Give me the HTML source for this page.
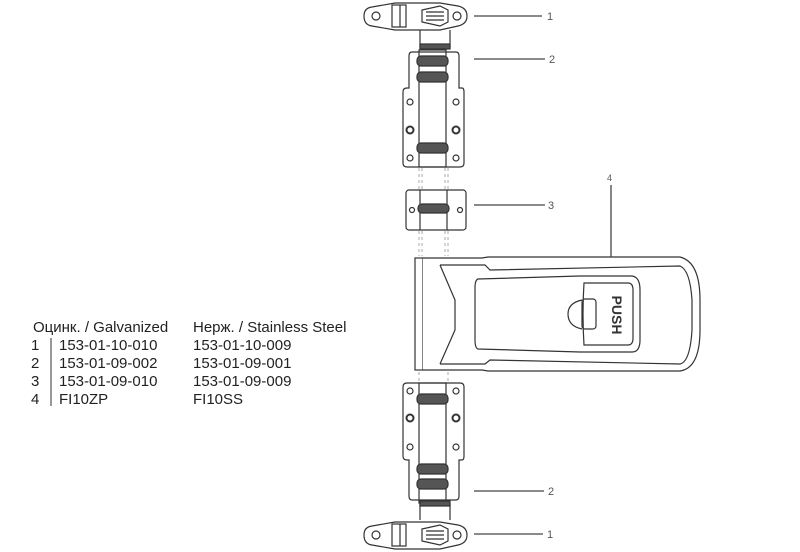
<!DOCTYPE html>
<html><head><meta charset="utf-8"><style>
html,body{margin:0;padding:0;background:#fff;}
svg{display:block}
text{font-family:"Liberation Sans",Arial,sans-serif;}
</style></head><body>
<svg width="800" height="552" viewBox="0 0 800 552" xmlns="http://www.w3.org/2000/svg">
<g fill="none" stroke="#333" stroke-width="1.2">
<!-- top part 1 -->
<path d="M372 7 Q364 8 364 16 Q364 25 372 26 L395 30 L440 30 L458 26 Q467 24 467 16 Q467 8 458 6 L440 3 L395 3 Z" fill="#fff"/>
<circle cx="376" cy="16" r="4"/><circle cx="457" cy="16" r="4"/>
<rect x="392" y="5" width="14" height="22"/><line x1="400" y1="5" x2="400" y2="27"/>
<path d="M422 10 L440 6 L448 10 L448 22 L440 26 L422 22 Z"/>
<line x1="426" y1="12" x2="444" y2="12"/><line x1="426" y1="16" x2="444" y2="16"/><line x1="426" y1="20" x2="444" y2="20"/>
<path d="M420 30 L420 48 L450 48 L450 30"/>
<rect x="420" y="44" width="30" height="5" fill="#555"/>
<!-- upper part 2 -->
<path d="M412 52 L456 52 Q459 52 459 56 L459 88 L462 88 Q464 88 464 92 L464 163 Q464 167 460 167 L407 167 Q403 167 403 163 L403 92 Q403 88 407 88 L409 88 L409 56 Q409 52 412 52 Z" fill="#fff"/>
<rect x="419" y="50" width="27" height="117"/>
<rect x="417" y="56" width="31" height="10" rx="4" fill="#555"/>
<rect x="417" y="72" width="31" height="10" rx="4" fill="#555"/>
<rect x="417" y="143" width="31" height="10" rx="4" fill="#555"/>
<circle cx="410" cy="102" r="3"/><circle cx="456" cy="102" r="3"/>
<circle cx="410" cy="130" r="3.5" stroke-width="2"/><circle cx="456" cy="130" r="3.5" stroke-width="2"/>
<circle cx="410" cy="158" r="3"/><circle cx="456" cy="158" r="3"/>
<g stroke="#aaa" stroke-dasharray="3 3" stroke-width="1"><line x1="419" y1="168" x2="419" y2="190"/><line x1="422" y1="168" x2="422" y2="190"/><line x1="445" y1="168" x2="445" y2="190"/><line x1="448" y1="168" x2="448" y2="190"/>
<line x1="419" y1="231" x2="419" y2="256"/><line x1="422" y1="231" x2="422" y2="256"/><line x1="445" y1="231" x2="445" y2="256"/><line x1="448" y1="231" x2="448" y2="256"/>
<line x1="419" y1="372" x2="419" y2="383"/><line x1="448" y1="372" x2="448" y2="383"/></g>
<!-- part 3 -->
<rect x="406" y="190" width="60" height="40" rx="3" fill="#fff"/>
<line x1="420" y1="190" x2="420" y2="230"/><line x1="447" y1="190" x2="447" y2="230"/>
<rect x="418" y="204" width="31" height="9" rx="4" fill="#555"/>
<circle cx="412" cy="210" r="2.5"/><circle cx="460" cy="210" r="2.5"/>
<!-- part 4 handle -->
<rect x="415" y="258" width="8" height="112" fill="#fff"/>
<path d="M423 258 L482 258 L488 257 L680 257 Q700 262 700 300 L700 330 Q700 368 680 371 L488 371 L482 370 L423 370" fill="#fff"/>
<path d="M440 265 L485 265 L490 270 L680 266 Q690 270 692 300 L692 330 Q690 362 680 364 L490 360 L485 364 L440 364"/>
<path d="M440 265 L455 300 L455 330 L440 364"/>
<path d="M478 279 L580 276 L632 276 Q640 277 640 290 L640 340 Q640 352 632 352 L580 352 L478 349 Q475 348 475 340 L475 288 Q475 280 478 279 Z" fill="#fff"/>
<path d="M584 283 L628 283 Q633 283 633 290 L633 338 Q633 345 628 345 L584 345 Q582 314 584 283 Z"/>
<path d="M582 300 Q568 303 568 314 Q568 326 582 329"/>
<rect x="582" y="299" width="14" height="30" rx="3"/>
<text x="612" y="315" font-size="14" fill="#333" stroke="none" text-anchor="middle" transform="rotate(90 612 315)" font-weight="bold">PUSH</text>
<!-- lower part 2 -->
<path d="M407 383 L460 383 Q464 383 464 387 L464 456 Q464 460 462 460 L459 460 L459 496 Q459 500 456 500 L412 500 Q409 500 409 496 L409 460 L407 460 Q403 460 403 456 L403 387 Q403 383 407 383 Z" fill="#fff"/>
<rect x="419" y="383" width="27" height="120"/>
<rect x="417" y="394" width="31" height="10" rx="4" fill="#555"/>
<rect x="417" y="464" width="31" height="10" rx="4" fill="#555"/>
<rect x="417" y="479" width="31" height="10" rx="4" fill="#555"/>
<circle cx="410" cy="391" r="3"/><circle cx="456" cy="391" r="3"/>
<circle cx="410" cy="418" r="3.5" stroke-width="2"/><circle cx="456" cy="418" r="3.5" stroke-width="2"/>
<circle cx="410" cy="447" r="3"/><circle cx="456" cy="447" r="3"/>
<path d="M420 503 L420 520 M450 503 L450 520"/>
<rect x="420" y="501" width="30" height="5" fill="#555"/>
<!-- lower part 1 -->
<path d="M372 526 Q364 527 364 535 Q364 544 372 545 L395 549 L440 549 L458 545 Q467 543 467 535 Q467 527 458 525 L440 522 L395 522 Z" fill="#fff"/>
<circle cx="376" cy="535" r="4"/><circle cx="457" cy="535" r="4"/>
<rect x="392" y="524" width="14" height="22"/><line x1="400" y1="524" x2="400" y2="546"/>
<path d="M422 529 L440 525 L448 529 L448 541 L440 545 L422 541 Z"/>
<line x1="426" y1="531" x2="444" y2="531"/><line x1="426" y1="535" x2="444" y2="535"/><line x1="426" y1="539" x2="444" y2="539"/>
</g>
<!-- leader lines -->
<g stroke="#444" stroke-width="1.3">
<line x1="474" y1="16" x2="542" y2="16"/>
<line x1="474" y1="59" x2="545" y2="59"/>
<line x1="474" y1="205" x2="545" y2="205"/>
<line x1="611" y1="185" x2="611" y2="257"/>
<line x1="474" y1="491" x2="544" y2="491"/>
<line x1="474" y1="534" x2="543" y2="534"/>
</g>
<g fill="#555" font-size="11">
<text x="547" y="20">1</text>
<text x="549" y="63">2</text>
<text x="548" y="209">3</text>
<text x="607" y="181" font-size="9">4</text>
<text x="548" y="495">2</text>
<text x="547" y="538">1</text>
</g>
<!-- table -->
<g fill="#222" font-size="15">
<text x="33" y="332">Оцинк. / Galvanized</text>
<text x="193" y="332">Нерж. / Stainless Steel</text>
<text x="31" y="350">1</text><text x="59" y="350">153-01-10-010</text><text x="193" y="350">153-01-10-009</text>
<text x="31" y="368">2</text><text x="59" y="368">153-01-09-002</text><text x="193" y="368">153-01-09-001</text>
<text x="31" y="386">3</text><text x="59" y="386">153-01-09-010</text><text x="193" y="386">153-01-09-009</text>
<text x="31" y="404">4</text><text x="59" y="404">FI10ZP</text><text x="193" y="404">FI10SS</text>
</g>
<line x1="51" y1="338" x2="51" y2="406" stroke="#333" stroke-width="1"/>
</svg>
</body></html>
